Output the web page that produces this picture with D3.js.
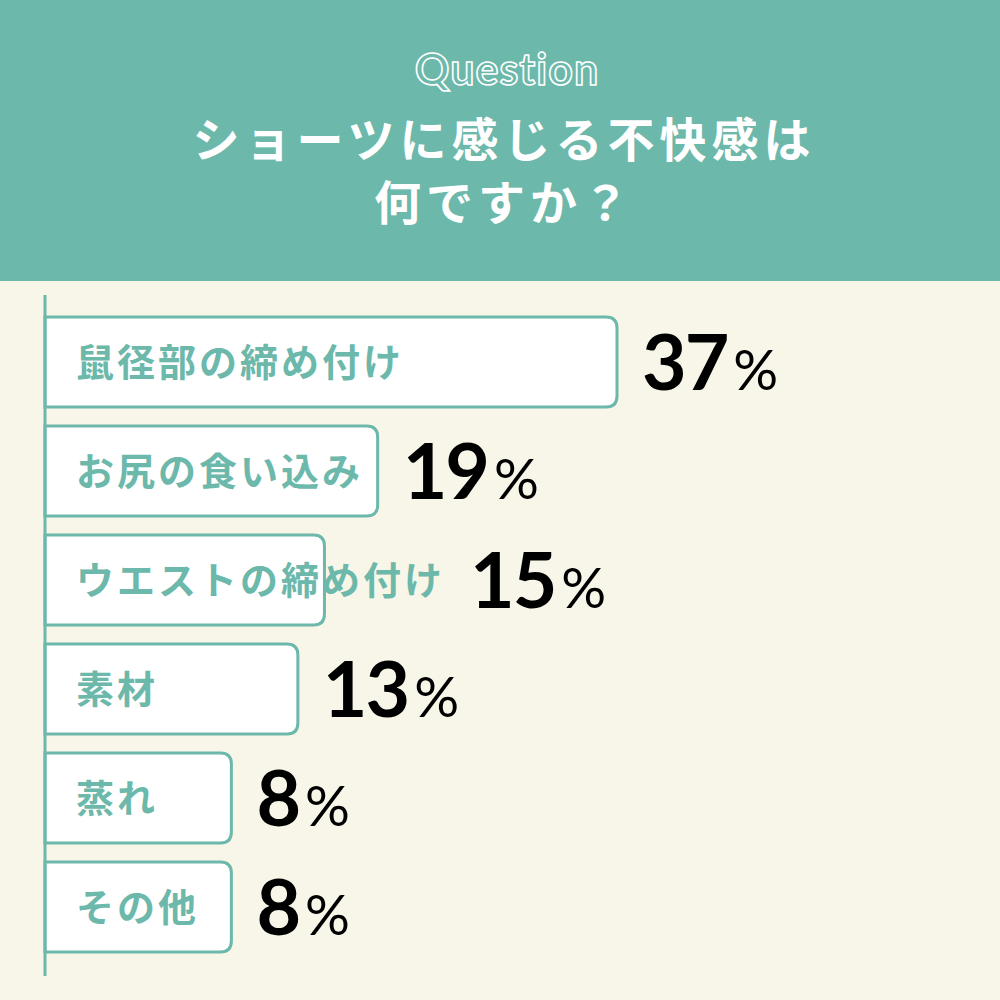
<!DOCTYPE html>
<html lang="ja">
<head>
<meta charset="UTF-8">
<title>ショーツに感じる不快感</title>
<script src="https://d3js.org/d3.v7.min.js"></script>
<style>
  body { margin: 0; background: #f8f6e8; }
  svg { display: block; }
</style>
</head>
<body>
<script>
    // data
    var categories = ["鼠径部の締め付け", "お尻の食い込み", "ウエストの締め付け", "素材", "蒸れ", "その他"];
    var values = [37, 19, 15, 13, 8, 8];
    var titleLines = ["ショーツに感じる不快感は", "何ですか？"];

    var teal = "#6cb8ab",
        cream = "#f8f6e8",
        W = 1000, H = 1000,
        axisX = 45;

    var data = categories.map(function(c, i) { return {name: c, value: values[i]}; });

    var svg = d3.select("body").append("svg")
        .attr("width", W)
        .attr("height", H);

    svg.append("rect").attr("width", W).attr("height", H).attr("fill", cream);

    //header
    svg.append("rect").attr("width", W).attr("height", 281).attr("fill", teal);

    svg.append("text")
        .attr("x", W / 2 + 7)
        .attr("y", 85)
        .attr("text-anchor", "middle")
        .style("font-family", "Lato, 'Noto Sans', sans-serif")
        .style("font-weight", 700)
        .style("font-size", "43px")
        .style("letter-spacing", "1px")
        .attr("fill", "none")
        .attr("stroke", "#fff")
        .attr("stroke-width", 1.6)
        .text("Question");

    svg.selectAll(".title")
        .data(titleLines)
        .enter().append("text")
        .attr("class", "title")
        .attr("x", W / 2 + 4)
        .attr("y", function(d, i) { return 157 + i * 63; })
        .attr("text-anchor", "middle")
        .style("font-family", "'Noto Sans CJK JP', sans-serif")
        .style("font-weight", 700)
        .style("font-size", "47px")
        .style("letter-spacing", "5px")
        .attr("fill", "#fff")
        .text(function(d) { return d; });

    //scales
    var y = d3.scaleBand()
        .domain(categories)
        .range([307.5, 961.5])
        .paddingInner(0.174)
        .paddingOuter(0.087);

    var x = d3.scaleLinear()
        .domain([0, 37])
        .range([axisX + 80, axisX + 572]);

    //bars
    var g = svg.append("g");

    var rows = g.selectAll(".row")
        .data(data)
        .enter().append("g")
        .attr("class", "row");

    rows.append("path")
        .attr("d", function(d) {
            var x0 = axisX, x1 = x(d.value), y0 = y(d.name), y1 = y0 + y.bandwidth(), r = 11;
            return "M" + x0 + "," + y0 + "H" + (x1 - r)
                + "Q" + x1 + "," + y0 + " " + x1 + "," + (y0 + r)
                + "V" + (y1 - r)
                + "Q" + x1 + "," + y1 + " " + (x1 - r) + "," + y1
                + "H" + x0 + "Z";
        })
        .attr("fill", "#fff")
        .attr("stroke", teal)
        .attr("stroke-width", 3);

    var labels = rows.append("text")
        .attr("x", 76)
        .attr("y", function(d) { return y(d.name) + y.bandwidth() / 2 + 14; })
        .style("font-family", "'Noto Sans CJK JP', sans-serif")
        .style("font-weight", 700)
        .style("font-size", "38px")
        .style("letter-spacing", "3px")
        .attr("fill", teal)
        .text(function(d) { return d.name; });

    //percent labels
    rows.each(function(d, i) {
        var row = d3.select(this);
        var labelEnd = labels.nodes()[i].getBBox();
        labelEnd = labelEnd.x + labelEnd.width;
        var px = Math.max(x(d.value), labelEnd) + 25;
        var t = row.append("text")
            .attr("x", px)
            .attr("y", y(d.name) + y.bandwidth() / 2 + 28)
            .attr("fill", "#000")
            .style("font-family", "Lato, 'Noto Sans', sans-serif");
        t.append("tspan")
            .style("font-weight", 700)
            .style("font-size", "77px")
            .style("letter-spacing", "-2px")
            .text(d.value);
        t.append("tspan")
            .attr("dx", 6)
            .style("font-weight", 400)
            .style("font-size", "56px")
            .text("%");
    });

    //axis line
    svg.append("line")
        .attr("x1", axisX).attr("x2", axisX)
        .attr("y1", 295).attr("y2", 976)
        .attr("stroke", teal)
        .attr("stroke-width", 3);
</script>
</body>
</html>
